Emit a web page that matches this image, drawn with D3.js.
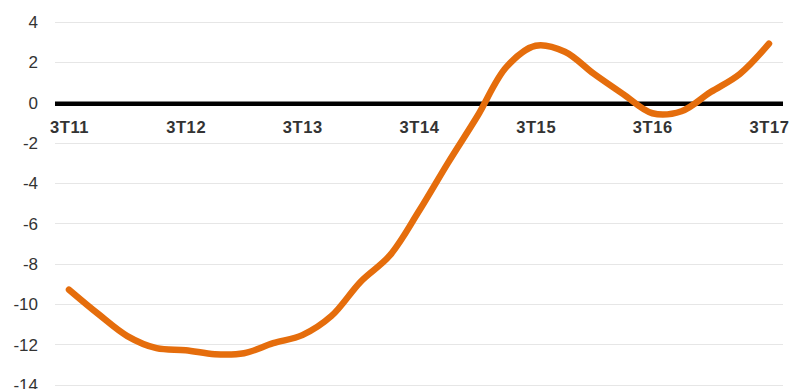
<!DOCTYPE html>
<html>
<head>
<meta charset="utf-8">
<script src="https://cdn.jsdelivr.net/npm/d3@7/dist/d3.min.js"></script>
<style>
  html, body { margin: 0; padding: 0; background: #fff; }
  svg { display: block; }
</style>
</head>
<body>
<svg id="chart" width="792" height="389"></svg>
<script>
// Quarterly periods, 3T11 through 3T17
const quarters = [
  "3T11","4T11","1T12","2T12","3T12","4T12","1T13","2T13","3T13",
  "4T13","1T14","2T14","3T14","4T14","1T15","2T15","3T15",
  "4T15","1T16","2T16","3T16","4T16","1T17","2T17","3T17"
];
const values = [
  -9.3, -10.5, -11.6, -12.2, -12.3, -12.5, -12.45, -11.95, -11.55,
  -10.6, -8.9, -7.6, -5.4, -3.0, -0.7, 1.75, 2.8,
  2.5, 1.4, 0.4, -0.55, -0.45, 0.5, 1.4, 2.9
];
const yTicks = [4, 2, 0, -2, -4, -6, -8, -10, -12, -14];
const xLabels = ["3T11","3T12","3T13","3T14","3T15","3T16","3T17"];

const svg = d3.select("#chart");
const plotLeft = 55, plotRight = 783;

const x = d3.scalePoint().domain(quarters).range([69, 769]);
const y = d3.scaleLinear().domain([-14, 4]).range([384.5, 21.5]);

// horizontal grid
svg.append("g")
  .selectAll("line")
  .data(yTicks.filter(d => d !== 0))
  .join("line")
  .attr("x1", plotLeft).attr("x2", plotRight)
  .attr("y1", d => Math.round(y(d)) + 0.5).attr("y2", d => Math.round(y(d)) + 0.5)
  .attr("stroke", "#e6e6e6").attr("stroke-width", 1);

// y axis labels
const yAxis = d3.axisLeft(y).tickValues(yTicks).tickSize(0).tickPadding(0)
  .tickFormat(d => d3.format("d")(d).replace("−", "-"));
const gy = svg.append("g").attr("transform", "translate(38,0)").call(yAxis);
gy.select(".domain").remove();
gy.selectAll("text")
  .attr("font-family", "'Liberation Sans', Arial, Helvetica, sans-serif")
  .attr("font-size", 17).attr("fill", "#333").attr("dy", "0.35em");

// zero baseline
svg.append("line")
  .attr("x1", plotLeft).attr("x2", plotRight)
  .attr("y1", y(0) + 1.5).attr("y2", y(0) + 1.5)
  .attr("stroke", "#000").attr("stroke-width", 4.5);

// period labels under the baseline
const xAxis = d3.axisBottom(x).tickValues(xLabels).tickSize(0).tickPadding(0);
const gx = svg.append("g").attr("transform", `translate(0,${y(0) + 25})`).call(xAxis);
gx.select(".domain").remove();
gx.selectAll("text")
  .attr("font-family", "'Liberation Sans', Arial, Helvetica, sans-serif")
  .attr("font-size", 16.5).attr("font-weight", "bold").attr("fill", "#333")
  .attr("letter-spacing", "0.6px")
  .attr("dy", "0.35em").attr("y", 0);

// series line
const line = d3.line()
  .x((d, i) => x(quarters[i]))
  .y(d => y(d))
  .curve(d3.curveCatmullRom.alpha(0.5));

svg.append("path")
  .datum(values)
  .attr("d", line)
  .attr("fill", "none")
  .attr("stroke", "#e56d0c")
  .attr("stroke-width", 6.5)
  .attr("stroke-linecap", "round")
  .attr("stroke-linejoin", "round");
</script>
</body>
</html>
